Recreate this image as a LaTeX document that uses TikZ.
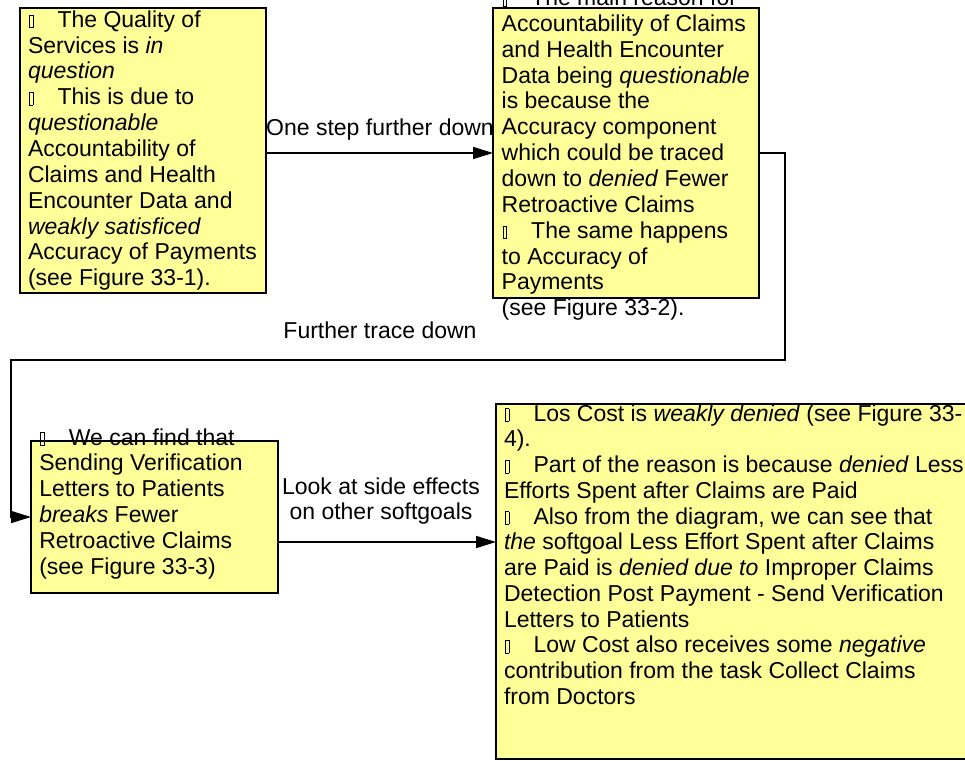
\documentclass[tikz,border=0pt]{standalone}
\usepackage{fontspec}
\setmainfont{Liberation Sans}
\usetikzlibrary{arrows.meta}

\definecolor{notefill}{HTML}{FFFF99}

% placeholder glyph for the missing bullet symbol
\newcommand\tofu{\makebox[29.5pt][l]{\hspace{1pt}{\setlength\fboxsep{0pt}\setlength\fboxrule{0.7pt}\fbox{\rule{0pt}{12pt}\hspace{3pt}}}}}
\newcommand\notefont{\fontsize{23pt}{25.85pt}\selectfont}

\tikzset{
  notebox/.style={draw=black, line width=2pt, fill=notefill, inner sep=0pt, outer sep=0pt, anchor=north west},
  notetext/.style={anchor=base west, inner sep=0pt, outer sep=0pt},
  steplabel/.style={anchor=base, inner sep=0pt, font=\notefont},
  conn/.style={draw=black, line width=1.6pt, -{Triangle[length=20pt,width=12pt]}}
}

\begin{document}
\begin{tikzpicture}[x=1pt,y=-1pt]
\useasboundingbox (0,0) rectangle (965,760);
\clip (0,0) rectangle (965,760);

% step labels (drawn first, the boxes cover their overhang)
\node[steplabel] (lab1) at (380,135) {One step further down};
\node[steplabel] (lab2) at (380,338) {Further trace down};
\node[anchor=base, inner sep=0pt] (lab3) at (381,494)
  {\parbox[t]{260pt}{\notefont\centering Look at side effects\\on other softgoals}};

% note boxes
\node[notebox, minimum width=246pt, minimum height=285pt] (b1) at (20,8) {};
\node[notebox, minimum width=266pt, minimum height=290pt] (b2) at (493,8) {};
\node[notebox, minimum width=247pt, minimum height=152pt] (b3) at (31,441) {};
\node[notebox, minimum width=490pt, minimum height=355pt] (b4) at (496,404) {};

% note texts
\node[notetext] (t1) at (28,27.3) {\parbox[t]{600pt}{\notefont\raggedright
\tofu The Quality of\\
Services is \textit{in}\\
\textit{question}\\
\tofu This is due to\\
\textit{questionable}\\
Accountability of\\
Claims and Health\\
Encounter Data and\\
\textit{weakly satisficed}\\
Accuracy of Payments\\
(see Figure 33-1).}};

\node[notetext] (t2) at (501.7,5.6) {\parbox[t]{600pt}{\notefont\raggedright
\tofu The main reason for\\
Accountability of Claims\\
and Health Encounter\\
Data being \textit{questionable}\\
is because the\\
Accuracy component\\
which could be traced\\
down to \textit{denied} Fewer\\
Retroactive Claims\\
\tofu The same happens\\
to Accuracy of\\
Payments\\
(see Figure 33-2).}};

\node[notetext] (t3) at (39.3,445) {\parbox[t]{600pt}{\notefont\raggedright
\tofu We can find that\\
Sending Verification\\
Letters to Patients\\
\textit{breaks} Fewer\\
Retroactive Claims\\
(see Figure 33-3)}};

\node[notetext] (t4) at (504,421) {\parbox[t]{600pt}{\fontsize{23pt}{25.75pt}\selectfont\raggedright
\tofu Los Cost is \textit{weakly denied} (see Figure 33-\\
4).\\
\tofu Part of the reason is because \textit{denied} Less\\
Efforts Spent after Claims are Paid\\
\tofu Also from the diagram, we can see that\\
\textit{the} softgoal Less Effort Spent after Claims\\
are Paid is \textit{denied due to} Improper Claims\\
Detection Post Payment - Send Verification\\
Letters to Patients\\
\tofu Low Cost also receives some \textit{negative}\\
contribution from the task Collect Claims\\
from Doctors}};

% connectors
\coordinate (turnR) at (785,360);
\coordinate (turnL) at (11,360);
\draw[conn] (b2.west -| b1.east) -- (b2.west);
\draw[conn] (b2.east) -| (turnR) -- (turnL) |- (b3.west);
\draw[conn] ([yshift=-25pt]b3.east) coordinate (s3) -- (s3 -| b4.west);
\end{tikzpicture}
\end{document}
